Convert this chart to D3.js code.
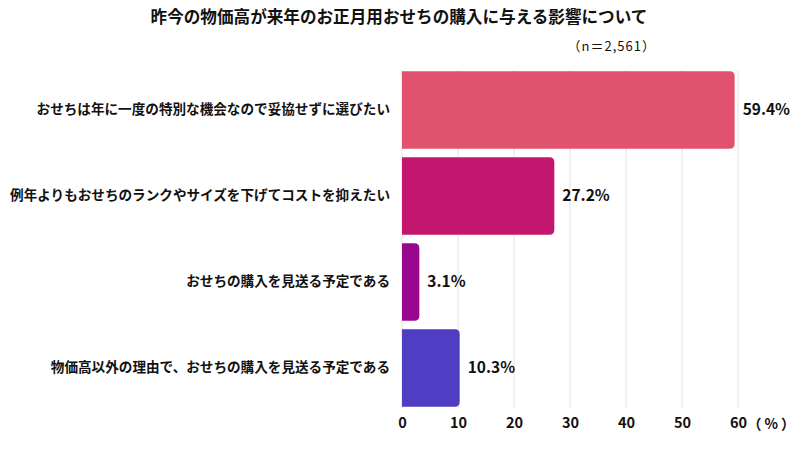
<!DOCTYPE html>
<html>
<head>
<meta charset="utf-8">
<script src="https://cdn.jsdelivr.net/npm/d3@7"></script>
<style>
  body { margin: 0; background: #fff; }
  text { font-family: "Noto Sans CJK JP", "Noto Sans", sans-serif; fill: #111; }
</style>
</head>
<body>
<div id="chart"></div>
<script>
var categories = [
  "おせちは年に一度の特別な機会なので妥協せずに選びたい",
  "例年よりもおせちのランクやサイズを下げてコストを抑えたい",
  "おせちの購入を見送る予定である",
  "物価高以外の理由で、おせちの購入を見送る予定である"
];
var values = [59.4, 27.2, 3.1, 10.3];
var colors = ["#e0526e", "#c3166f", "#9a078f", "#4f3dc3"];
var ticks = [0, 10, 20, 30, 40, 50, 60];

var width = 800, height = 456;
var svg = d3.select("#chart").append("svg")
  .attr("width", width)
  .attr("height", height);

// scales
var x = d3.scaleLinear().domain([0, 60]).range([402, 738]);
var y = d3.scaleBand().domain(categories).range([67, 411]).paddingInner(0.1).paddingOuter(0.05);

// grid lines
svg.append("g").selectAll("line")
  .data(ticks)
  .enter().append("line")
    .attr("x1", function(d) { return x(d); })
    .attr("x2", function(d) { return x(d); })
    .attr("y1", 70)
    .attr("y2", 409)
    .attr("stroke", "#e3e3e3")
    .attr("stroke-width", 1);

// bars with rounded right end
var r = 5;
svg.append("g").selectAll("path")
  .data(values)
  .enter().append("path")
    .attr("fill", function(d, i) { return colors[i]; })
    .attr("d", function(d, i) {
      var x0 = x(0), x1 = x(d), y0 = y(categories[i]), h = y.bandwidth();
      var rr = Math.min(r, (x1 - x0) / 2);
      return "M" + x0 + "," + y0 +
        "H" + (x1 - rr) +
        "Q" + x1 + "," + y0 + " " + x1 + "," + (y0 + rr) +
        "V" + (y0 + h - rr) +
        "Q" + x1 + "," + (y0 + h) + " " + (x1 - rr) + "," + (y0 + h) +
        "H" + x0 + "Z";
    });

// value labels
svg.append("g").selectAll("text")
  .data(values)
  .enter().append("text")
    .attr("x", function(d) { return x(d) + 8; })
    .attr("y", function(d, i) { return y(categories[i]) + y.bandwidth() / 2; })
    .attr("dy", "0.35em")
    .style("font-size", "15.5px")
    .style("font-weight", "bold")
    .text(function(d) { return d.toFixed(1) + "%"; });

// category labels
svg.append("g")
  .attr("transform", "translate(390,0)")
  .call(d3.axisLeft(y).tickSize(0).tickPadding(0))
  .call(function(g) { g.select(".domain").remove(); })
  .selectAll("text")
    .style("font-size", "13.6px")
    .style("font-weight", "bold")
    .style("font-family", "'Noto Sans CJK JP', sans-serif")
    .attr("fill", "#111");

// x axis tick labels
svg.append("g")
  .attr("transform", "translate(0,415)")
  .call(d3.axisBottom(x).tickValues(ticks).tickSize(0).tickPadding(3))
  .call(function(g) { g.select(".domain").remove(); })
  .selectAll("text")
    .style("font-size", "14.5px")
    .style("font-weight", "bold")
    .style("font-family", "'Noto Sans CJK JP', sans-serif")
    .attr("fill", "#111");

svg.append("text")
  .attr("x", 798)
  .attr("y", 424)
  .attr("dy", "0.35em")
  .style("text-anchor", "end")
  .style("font-size", "14px")
  .style("font-weight", "bold")
  .style("letter-spacing", "3px")
  .text("（%）");

// title
svg.append("text")
  .attr("x", 399)
  .attr("y", 23)
  .style("text-anchor", "middle")
  .style("font-size", "16.6px")
  .style("font-weight", "bold")
  .text("昨今の物価高が来年のお正月用おせちの購入に与える影響について");

svg.append("text")
  .attr("x", 656)
  .attr("y", 51)
  .style("text-anchor", "end")
  .style("font-size", "13px")
  .style("letter-spacing", "1px")
  .text("（n＝2,561）");
</script>
</body>
</html>
